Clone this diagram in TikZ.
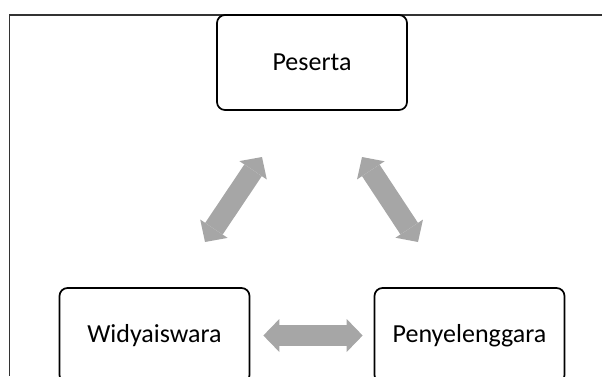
\documentclass[tikz,border=0pt]{standalone}
\usepackage{fontspec}
\setmainfont{Carlito}
\usetikzlibrary{arrows.meta}
\definecolor{arrowgray}{HTML}{A6A6A6}
\tikzset{box/.style={draw,line width=1.7pt,rounded corners=8pt,minimum width=190pt,minimum height=95pt,font=\fontsize{26}{30}\selectfont}}
\tikzset{link/.style={arrowgray,line width=21pt,{Triangle[length=16pt,width=33pt,line width=0pt]}-{Triangle[length=16pt,width=33pt,line width=0pt]}}}

\begin{document}
\begin{tikzpicture}[x=1pt,y=-1pt]
        \clip (0,0) rectangle (602,376);
        \draw[black!80,line width=1.2pt] (602,15)--(9.5,15)--(9.5,376);
        \node[box,fill=white] (ps) at (312,62.5) {Peserta};
        \node[box] (ws) at (154.5,335.5) {Widyaiswara};
        \node[box] (py) at (469.5,335.5) {Penyelenggara};
        % ujung panah
        \coordinate (wsa) at (205,242);
        \coordinate (psa) at (262,157);
        \coordinate (psb) at (362,157);
        \coordinate (pyb) at (418,242);
        \draw[link] (wsa) -- (psa);
        \draw[link] (psb) -- (pyb);
        \draw[link,shorten <=13pt,shorten >=11pt] (ws.east) -- (py.west);
      \end{tikzpicture}
\end{document}
